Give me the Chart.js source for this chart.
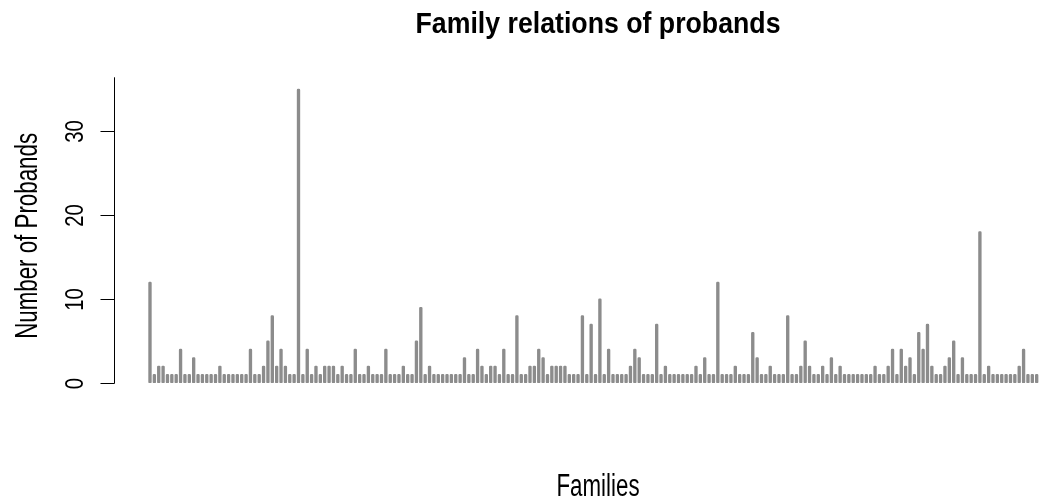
<!DOCTYPE html>
<html>
<head>
<meta charset="utf-8">
<script src="https://cdn.jsdelivr.net/npm/chart.js@4/dist/chart.umd.min.js"></script>
<style>
  html, body { margin: 0; padding: 0; background: #ffffff; }
  #wrap { width: 1039px; height: 502px; }
</style>
</head>
<body>
<div id="wrap"><canvas id="chart" width="1039" height="502"></canvas></div>
<script>
// Labels
const titleText = 'Family relations of probands';
const xAxisTitle = 'Families';
const yAxisTitle = 'Number of Probands';

// Number of probands per family, in family order
const probands = [
  12, 1, 2, 2, 1, 1, 1, 4, 1, 1,
  3, 1, 1, 1, 1, 1, 2, 1, 1, 1,
  1, 1, 1, 4, 1, 1, 2, 5, 8, 2,
  4, 2, 1, 1, 35, 1, 4, 1, 2, 1,
  2, 2, 2, 1, 2, 1, 1, 4, 1, 1,
  2, 1, 1, 1, 4, 1, 1, 1, 2, 1,
  1, 5, 9, 1, 2, 1, 1, 1, 1, 1,
  1, 1, 3, 1, 1, 4, 2, 1, 2, 2,
  1, 4, 1, 1, 8, 1, 1, 2, 2, 4,
  3, 1, 2, 2, 2, 2, 1, 1, 1, 8,
  1, 7, 1, 10, 1, 4, 1, 1, 1, 1,
  2, 4, 3, 1, 1, 1, 7, 1, 2, 1,
  1, 1, 1, 1, 1, 2, 1, 3, 1, 1,
  12, 1, 1, 1, 2, 1, 1, 1, 6, 3,
  1, 1, 2, 1, 1, 1, 8, 1, 1, 2,
  5, 2, 1, 1, 2, 1, 3, 1, 2, 1,
  1, 1, 1, 1, 1, 1, 2, 1, 1, 2,
  4, 1, 4, 2, 3, 1, 6, 4, 7, 2,
  1, 1, 2, 3, 5, 1, 3, 1, 1, 1,
  18, 1, 2, 1, 1, 1, 1, 1, 1, 2,
  4, 1, 1, 1
];
// Family index (x position of each spike)
const families = probands.map((_, i) => i + 1);
// Y axis tick values
const yTickValues = [0, 10, 20, 30];

// Base-graphics style axis, tick labels and titles
const baseAxes = {
  id: 'baseAxes',
  afterDraw(chart) {
    const { ctx, chartArea } = chart;
    const y = chart.scales.y;
    const ax = Math.round(chartArea.left) + 0.5;
    const font = '"Liberation Sans", Arial, Helvetica, sans-serif';
    ctx.save();
    ctx.strokeStyle = '#000000';
    ctx.fillStyle = '#000000';
    ctx.lineWidth = 1;

    // axis line
    ctx.beginPath();
    ctx.moveTo(ax, Math.round(y.getPixelForValue(0)) + 0.5);
    ctx.lineTo(ax, chartArea.top);
    ctx.stroke();

    // ticks and rotated tick labels
    yTickValues.forEach(v => {
      const py = Math.round(y.getPixelForValue(v)) + 0.5;
      ctx.beginPath();
      ctx.moveTo(ax - 14, py);
      ctx.lineTo(ax, py);
      ctx.stroke();
      ctx.save();
      ctx.translate(83, py);
      ctx.rotate(-Math.PI / 2);
      ctx.scale(0.8, 1);
      ctx.font = '25.5px ' + font;
      ctx.textAlign = 'center';
      ctx.textBaseline = 'alphabetic';
      ctx.fillText(String(v), 0, 0);
      ctx.restore();
    });

    // y axis title
    ctx.save();
    ctx.translate(37, (chartArea.top + chartArea.bottom) / 2);
    ctx.rotate(-Math.PI / 2);
    ctx.scale(0.72, 1);
    ctx.font = '31px ' + font;
    ctx.textAlign = 'center';
    ctx.textBaseline = 'alphabetic';
    ctx.fillText(yAxisTitle, 0, 0);
    ctx.restore();

    // main title
    ctx.save();
    ctx.translate(598, 33);
    ctx.scale(0.89, 1);
    ctx.font = 'bold 30px ' + font;
    ctx.textAlign = 'center';
    ctx.textBaseline = 'alphabetic';
    ctx.fillText(titleText, 0, 0);
    ctx.restore();

    // x axis title
    ctx.save();
    ctx.translate(598, 496);
    ctx.scale(0.72, 1);
    ctx.font = '31px ' + font;
    ctx.textAlign = 'center';
    ctx.textBaseline = 'alphabetic';
    ctx.fillText(xAxisTitle, 0, 0);
    ctx.restore();

    ctx.restore();
  }
};

new Chart(document.getElementById('chart').getContext('2d'), {
  type: 'bar',
  data: {
    datasets: [{
      data: families.map((f, i) => ({ x: f, y: probands[i] })),
      backgroundColor: '#8c8c8c',
      borderWidth: 0,
      barThickness: 2.7,
      borderRadius: 1.2,
      borderSkipped: false
    }]
  },
  options: {
    responsive: false,
    animation: false,
    devicePixelRatio: 1,
    layout: { padding: { left: 114, top: 77.3, right: 0, bottom: 107.5 } },
    plugins: {
      legend: { display: false },
      tooltip: { enabled: false },
      title: { display: false }
    },
    scales: {
      x: { type: 'linear', min: -7.24, max: 204.53, offset: false, display: false },
      y: { type: 'linear', min: -1.4, max: 36.4, display: false }
    }
  },
  plugins: [baseAxes]
});
</script>
</body>
</html>
